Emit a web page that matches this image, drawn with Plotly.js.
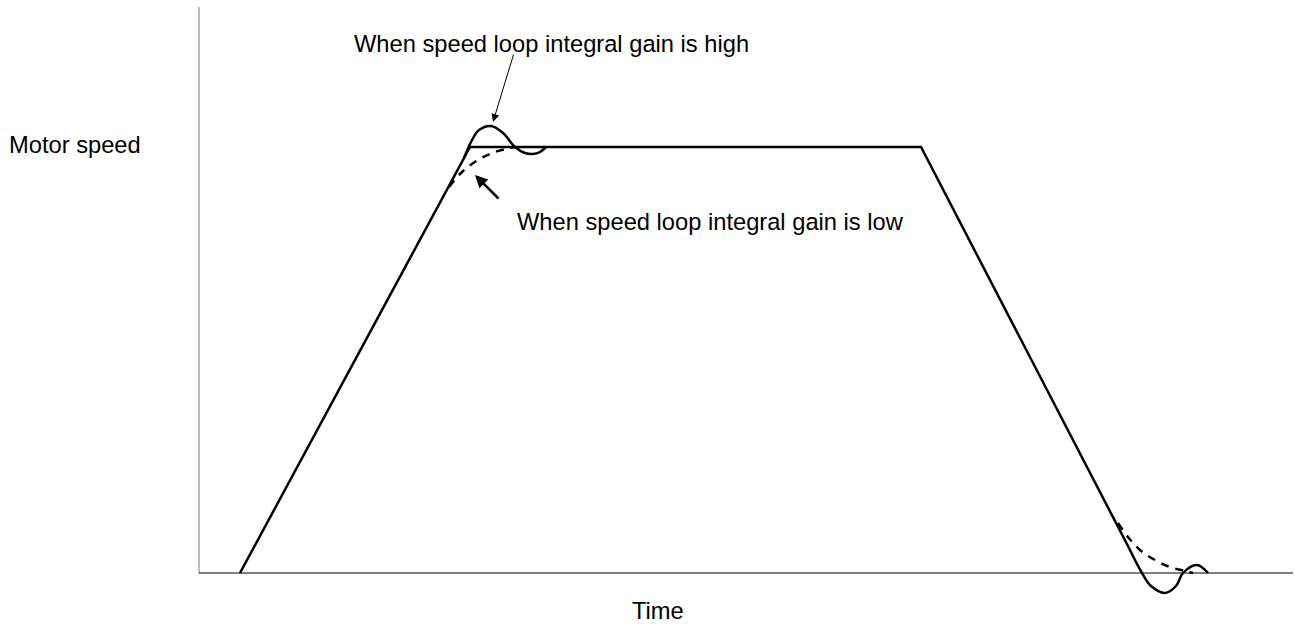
<!DOCTYPE html>
<html>
<head>
<meta charset="utf-8">
<script src="https://cdn.plot.ly/plotly-3.0.1.min.js"></script>
<style>html,body{margin:0;padding:0;background:#fff;}#chart{width:1295px;height:624px;}</style>
</head>
<body>
<div id="chart"></div>
<script>
// Time / speed in arbitrary units
const mainTime   = [41, 271, 722, 930];
const mainSpeed  = [0, 426, 426, 25];

const highTopTime  = [265, 272, 280, 292, 304, 316, 326, 334, 341, 347];
const highTopSpeed = [415, 431, 443, 447, 440, 426, 420, 419, 421, 426];

const highBotTime  = [930, 943, 952, 966, 977, 984, 998, 1009];
const highBotSpeed = [25, 0, -13, -20, -13, 0, 8, 0];

const lowTopTime   = [250, 263, 279, 296, 316];
const lowTopSpeed  = [386, 401, 413, 421, 426];

const lowBotTime   = [919, 929, 941, 956, 971, 986, 994];
const lowBotSpeed  = [50, 36, 23, 13, 6, 2, 0];

const axisTimeEnd = 1094;
const axisSpeedTop = 566;

const labels = {
  high: "When speed loop integral gain is high",
  low: "When speed loop integral gain is low",
  y: "Motor speed",
  x: "Time"
};

const solid = {color: "#000", width: 2.5};
const dashed = {color: "#000", width: 2.5, dash: "8px,7px"};

const traces = [
  {x: mainTime, y: mainSpeed, mode: "lines", line: solid},
  {x: highTopTime, y: highTopSpeed, mode: "lines", line: Object.assign({shape: "spline"}, solid)},
  {x: highBotTime, y: highBotSpeed, mode: "lines", line: Object.assign({shape: "spline"}, solid)},
  {x: lowTopTime, y: lowTopSpeed, mode: "lines", line: Object.assign({shape: "spline"}, dashed)},
  {x: lowBotTime, y: lowBotSpeed, mode: "lines", line: Object.assign({shape: "spline"}, dashed)}
];

const font = {family: "Liberation Sans, Arial, sans-serif", size: 23.7, color: "#000"};

const layout = {
  width: 1295, height: 624,
  margin: {l: 0, r: 0, t: 0, b: 0},
  paper_bgcolor: "#fff", plot_bgcolor: "#fff",
  showlegend: false,
  hovermode: false,
  xaxis: {visible: false, range: [-199, 1096], fixedrange: true},
  yaxis: {visible: false, range: [-51, 573], fixedrange: true},
  shapes: [
    {type: "line", xref: "x", yref: "y", x0: 0, x1: 0, y0: 0, y1: axisSpeedTop, line: {color: "#777", width: 1}},
    {type: "line", xref: "x", yref: "y", x0: 0, x1: axisTimeEnd, y0: 0, y1: 0, line: {color: "#000", width: 1}}
  ],
  annotations: [
    {x: 352.5, y: 529, xref: "x", yref: "y", text: labels.high, showarrow: false, font: font, xanchor: "center", yanchor: "middle"},
    {x: 511, y: 351, xref: "x", yref: "y", text: labels.low, showarrow: false, font: font, xanchor: "center", yanchor: "middle"},
    {x: -192, y: 428.5, xref: "x", yref: "y", text: labels.y, showarrow: false, font: font, xanchor: "left", yanchor: "middle"},
    {x: 458.5, y: -37.5, xref: "x", yref: "y", text: labels.x, showarrow: false, font: font, xanchor: "center", yanchor: "middle"},
    {x: 294, y: 451, ax: 315, ay: 520, xref: "x", yref: "y", axref: "x", ayref: "y", text: "", showarrow: true, arrowhead: 2, arrowsize: 1.6, arrowwidth: 1, arrowcolor: "#000"},
    {x: 276, y: 398, ax: 301, ay: 373, xref: "x", yref: "y", axref: "x", ayref: "y", text: "", showarrow: true, arrowhead: 2, arrowsize: 1, arrowwidth: 2.5, arrowcolor: "#000"}
  ]
};

Plotly.newPlot("chart", traces, layout, {staticPlot: true, displayModeBar: false});
</script>
</body>
</html>
